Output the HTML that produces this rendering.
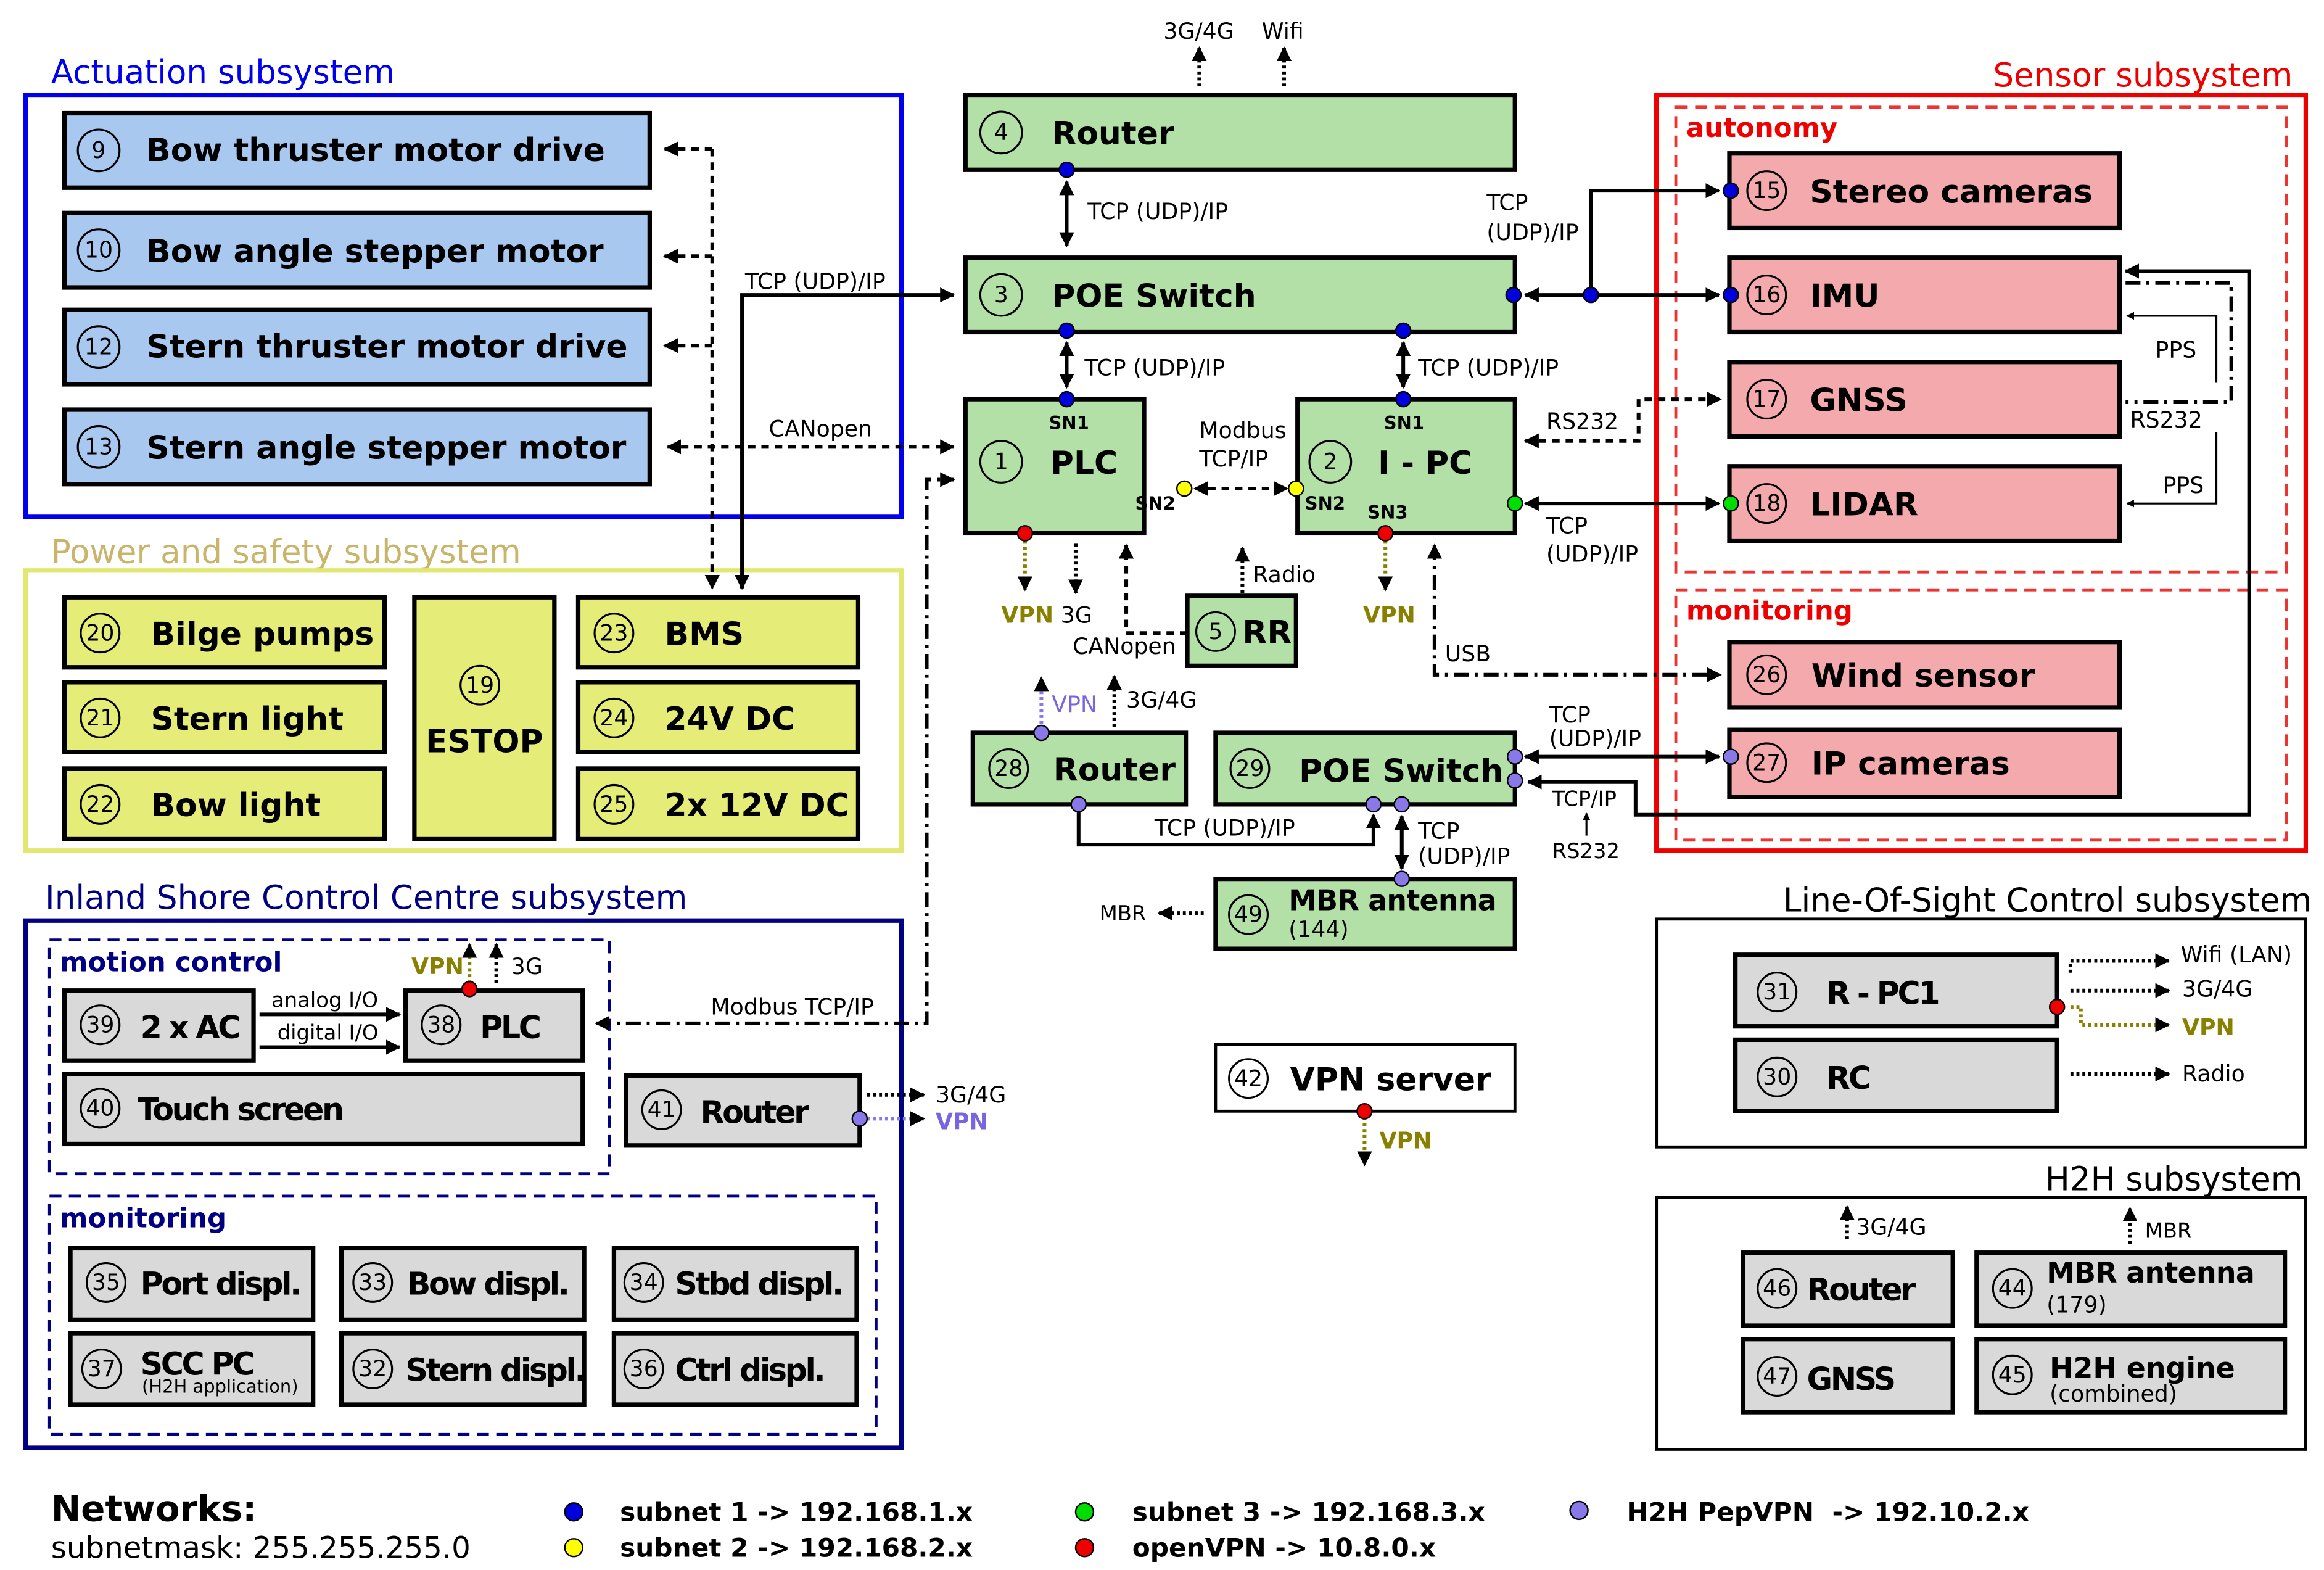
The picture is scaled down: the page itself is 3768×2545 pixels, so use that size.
<!DOCTYPE html>
<html><head><meta charset="utf-8"><style>
html,body{margin:0;padding:0;background:#fff}
svg{display:block}
text{font-family:"DejaVu Sans","Liberation Sans",sans-serif}
.b{font-weight:bold;font-size:21.5px}
.g{font-weight:bold;font-size:21px;letter-spacing:-1.4px}
.n{font-size:15px}
.s{font-size:15px}
.bl{fill:#a9c8f0;stroke:#000;stroke-width:3}
.gr{fill:#b3e0a6;stroke:#000;stroke-width:3}
.pk{fill:#f4a9ac;stroke:#000;stroke-width:3}
.ye{fill:#e6ec78;stroke:#000;stroke-width:3}
.gy{fill:#d9d9d9;stroke:#000;stroke-width:3}
.c{fill:none;stroke:#000;stroke-width:1.3}
.l{fill:none;stroke:#000;stroke-width:2.5}
.d{fill:none;stroke:#000;stroke-width:2.5;stroke-dasharray:5,4}
.dd{fill:none;stroke:#000;stroke-width:2.5;stroke-dasharray:10,4,2,4}
.o{fill:none;stroke:#000;stroke-width:2.5;stroke-dasharray:2,2}
.ov{fill:none;stroke:#8a8000;stroke-width:2.5;stroke-dasharray:2,2}
.pv{fill:none;stroke:#8878e8;stroke-width:2.5;stroke-dasharray:2,2}
</style></head><body>
<svg width="3768" height="2545" viewBox="0 0 1560 1054" xmlns="http://www.w3.org/2000/svg">
<defs>
<marker id="a" viewBox="0 0 10 10" refX="9" refY="5" markerWidth="4" markerHeight="4" orient="auto-start-reverse"><path d="M0,0L10,5L0,10z" fill="#000"/></marker>
</defs>
<rect width="1560" height="1054" fill="#fff"/>

<!-- Actuation -->
<text x="34" y="56" font-size="22" fill="#0000ee">Actuation subsystem</text>
<rect x="17" y="64" width="588" height="283" fill="none" stroke="#0000ee" stroke-width="3"/>
<g>
<rect class="bl" x="43" y="76" width="393" height="50"/><circle class="c" cx="66" cy="101" r="14"/><text class="n" x="66" y="106" text-anchor="middle">9</text><text class="b" x="98" y="108">Bow thruster motor drive</text>
<rect class="bl" x="43" y="143" width="393" height="50"/><circle class="c" cx="66" cy="168" r="14"/><text class="n" x="66" y="173" text-anchor="middle">10</text><text class="b" x="98" y="176">Bow angle stepper motor</text>
<rect class="bl" x="43" y="208" width="393" height="50"/><circle class="c" cx="66" cy="233" r="14"/><text class="n" x="66" y="238" text-anchor="middle">12</text><text class="b" x="98" y="240">Stern thruster motor drive</text>
<rect class="bl" x="43" y="275" width="393" height="50"/><circle class="c" cx="66" cy="300" r="14"/><text class="n" x="66" y="305" text-anchor="middle">13</text><text class="b" x="98" y="308">Stern angle stepper motor</text>
</g>

<!-- Power -->
<text x="34" y="378" font-size="22" fill="#c8b46a">Power and safety subsystem</text>
<rect x="17" y="383" width="588" height="188" fill="none" stroke="#e0e870" stroke-width="3"/>
<rect class="ye" x="43" y="401" width="215" height="47"/><circle class="c" cx="67" cy="425" r="13"/><text class="n" x="67" y="430" text-anchor="middle">20</text><text class="b" x="101" y="433">Bilge pumps</text>
<rect class="ye" x="43" y="458" width="215" height="47"/><circle class="c" cx="67" cy="482" r="13"/><text class="n" x="67" y="487" text-anchor="middle">21</text><text class="b" x="101" y="490">Stern light</text>
<rect class="ye" x="43" y="516" width="215" height="47"/><circle class="c" cx="67" cy="540" r="13"/><text class="n" x="67" y="545" text-anchor="middle">22</text><text class="b" x="101" y="548">Bow light</text>
<rect class="ye" x="278" y="401" width="94" height="162"/><circle class="c" cx="322" cy="460" r="13"/><text class="n" x="322" y="465" text-anchor="middle">19</text><text class="b" x="325" y="505" text-anchor="middle">ESTOP</text>
<rect class="ye" x="388" y="401" width="188" height="47"/><circle class="c" cx="412" cy="425" r="13"/><text class="n" x="412" y="430" text-anchor="middle">23</text><text class="b" x="446" y="433">BMS</text>
<rect class="ye" x="388" y="458" width="188" height="47"/><circle class="c" cx="412" cy="482" r="13"/><text class="n" x="412" y="487" text-anchor="middle">24</text><text class="b" x="446" y="490">24V DC</text>
<rect class="ye" x="388" y="516" width="188" height="47"/><circle class="c" cx="412" cy="540" r="13"/><text class="n" x="412" y="545" text-anchor="middle">25</text><text class="b" x="446" y="548">2x 12V DC</text>

<!-- Inland -->
<text x="30" y="610" font-size="22" fill="#000080">Inland Shore Control Centre subsystem</text>
<rect x="17" y="618" width="588" height="354" fill="none" stroke="#000080" stroke-width="3"/>
<rect x="33" y="631" width="376" height="157" fill="none" stroke="#000080" stroke-width="2" stroke-dasharray="8,5"/>
<text x="40" y="652" font-size="18" font-weight="bold" fill="#000080">motion control</text>
<rect x="33" y="803" width="555" height="160" fill="none" stroke="#000080" stroke-width="2" stroke-dasharray="8,5"/>
<text x="40" y="824" font-size="18" font-weight="bold" fill="#000080">monitoring</text>
<rect class="gy" x="43" y="665" width="127" height="47"/><circle class="c" cx="67" cy="688" r="13"/><text class="n" x="67" y="693" text-anchor="middle">39</text><text class="g" x="94" y="697">2 x AC</text>
<rect class="gy" x="272" y="665" width="119" height="47"/><circle class="c" cx="296" cy="688" r="13"/><text class="n" x="296" y="693" text-anchor="middle">38</text><text class="g" x="322" y="697">PLC</text>
<rect class="gy" x="43" y="721" width="348" height="47"/><circle class="c" cx="67" cy="744" r="13"/><text class="n" x="67" y="749" text-anchor="middle">40</text><text class="g" x="92" y="752">Touch screen</text>
<rect class="gy" x="420" y="722" width="157" height="47"/><circle class="c" cx="444" cy="745" r="13"/><text class="n" x="444" y="750" text-anchor="middle">41</text><text class="g" x="470" y="754">Router</text>
<g>
<rect class="gy" x="47" y="838" width="163" height="48"/><circle class="c" cx="71" cy="861" r="13"/><text class="n" x="71" y="866" text-anchor="middle">35</text><text class="g" x="94" y="869">Port displ.</text>
<rect class="gy" x="229" y="838" width="163" height="48"/><circle class="c" cx="250" cy="861" r="13"/><text class="n" x="250" y="866" text-anchor="middle">33</text><text class="g" x="273" y="869">Bow displ.</text>
<rect class="gy" x="412" y="838" width="163" height="48"/><circle class="c" cx="432" cy="861" r="13"/><text class="n" x="432" y="866" text-anchor="middle">34</text><text class="g" x="453" y="869">Stbd displ.</text>
<rect class="gy" x="47" y="895" width="163" height="48"/><circle class="c" cx="68" cy="919" r="13"/><text class="n" x="68" y="924" text-anchor="middle">37</text><text class="g" x="94" y="923">SCC PC</text><text x="95" y="935" font-size="12">(H2H application)</text>
<rect class="gy" x="229" y="895" width="163" height="48"/><circle class="c" cx="250" cy="919" r="13"/><text class="n" x="250" y="924" text-anchor="middle">32</text><text class="g" x="272" y="927">Stern displ.</text>
<rect class="gy" x="412" y="895" width="163" height="48"/><circle class="c" cx="432" cy="919" r="13"/><text class="n" x="432" y="924" text-anchor="middle">36</text><text class="g" x="453" y="927">Ctrl displ.</text>
</g>

<!-- Green -->
<rect class="gr" x="648" y="64" width="369" height="50"/><circle class="c" cx="672" cy="89" r="14"/><text class="n" x="672" y="94" text-anchor="middle">4</text><text class="b" x="706" y="97">Router</text>
<rect class="gr" x="648" y="173" width="369" height="50"/><circle class="c" cx="672" cy="198" r="14"/><text class="n" x="672" y="203" text-anchor="middle">3</text><text class="b" x="706" y="206">POE Switch</text>
<rect class="gr" x="648" y="268" width="120" height="90"/><circle class="c" cx="672" cy="310" r="14"/><text class="n" x="672" y="315" text-anchor="middle">1</text><text class="b" x="705" y="318">PLC</text>
<text x="704" y="288" font-size="12" font-weight="bold">SN1</text><text x="762" y="342" font-size="12" font-weight="bold">SN2</text>
<rect class="gr" x="871" y="268" width="146" height="90"/><circle class="c" cx="893" cy="310" r="14"/><text class="n" x="893" y="315" text-anchor="middle">2</text><text class="b" x="925" y="318">I - PC</text>
<text x="929" y="288" font-size="12" font-weight="bold">SN1</text><text x="876" y="342" font-size="12" font-weight="bold">SN2</text><text x="918" y="348" font-size="12" font-weight="bold">SN3</text>
<rect class="gr" x="797" y="400" width="73" height="47"/><circle class="c" cx="816" cy="424" r="13"/><text class="n" x="816" y="429" text-anchor="middle">5</text><text class="b" x="834" y="432">RR</text>
<rect class="gr" x="653" y="492" width="143" height="48"/><circle class="c" cx="677" cy="516" r="13"/><text class="n" x="677" y="521" text-anchor="middle">28</text><text class="b" x="707" y="524">Router</text>
<rect class="gr" x="816" y="492" width="201" height="48"/><circle class="c" cx="839" cy="516" r="13"/><text class="n" x="839" y="521" text-anchor="middle">29</text><text class="b" x="872" y="525">POE Switch</text>
<rect class="gr" x="816" y="590" width="201" height="47"/><circle class="c" cx="838" cy="614" r="13"/><text class="n" x="838" y="619" text-anchor="middle">49</text><text x="865" y="611" font-size="19" font-weight="bold" letter-spacing="-0.3">MBR antenna</text><text x="865" y="629" font-size="15">(144)</text>
<rect x="816" y="701" width="201" height="45" fill="#fff" stroke="#000" stroke-width="2"/><circle class="c" cx="838" cy="724" r="13"/><text class="n" x="838" y="729" text-anchor="middle">42</text><text class="b" x="866" y="732">VPN server</text>

<!-- Sensor -->
<text x="1338" y="58" font-size="22" fill="#ee0000">Sensor subsystem</text>
<rect x="1112" y="64" width="436" height="507" fill="none" stroke="#ee0000" stroke-width="3"/>
<rect x="1125" y="72" width="410" height="312" fill="none" stroke="#ee3333" stroke-width="2" stroke-dasharray="8,5"/>
<text x="1132" y="92" font-size="18" font-weight="bold" fill="#ee0000">autonomy</text>
<rect x="1125" y="396" width="410" height="168" fill="none" stroke="#ee3333" stroke-width="2" stroke-dasharray="8,5"/>
<text x="1132" y="416" font-size="18" font-weight="bold" fill="#ee0000">monitoring</text>
<rect class="pk" x="1161" y="103" width="262" height="50"/><circle class="c" cx="1186" cy="128" r="13"/><text class="n" x="1186" y="133" text-anchor="middle">15</text><text class="b" x="1215" y="136">Stereo cameras</text>
<rect class="pk" x="1161" y="173" width="262" height="50"/><circle class="c" cx="1186" cy="198" r="13"/><text class="n" x="1186" y="203" text-anchor="middle">16</text><text class="b" x="1215" y="206">IMU</text>
<rect class="pk" x="1161" y="243" width="262" height="50"/><circle class="c" cx="1186" cy="268" r="13"/><text class="n" x="1186" y="273" text-anchor="middle">17</text><text class="b" x="1215" y="276">GNSS</text>
<rect class="pk" x="1161" y="313" width="262" height="50"/><circle class="c" cx="1186" cy="338" r="13"/><text class="n" x="1186" y="343" text-anchor="middle">18</text><text class="b" x="1215" y="346">LIDAR</text>
<rect class="pk" x="1161" y="431" width="262" height="44"/><circle class="c" cx="1186" cy="453" r="13"/><text class="n" x="1186" y="458" text-anchor="middle">26</text><text class="b" x="1216" y="461">Wind sensor</text>
<rect class="pk" x="1161" y="490" width="262" height="45"/><circle class="c" cx="1186" cy="512" r="13"/><text class="n" x="1186" y="517" text-anchor="middle">27</text><text class="b" x="1216" y="520">IP cameras</text>

<!-- LOS -->
<text x="1197" y="612" font-size="22">Line-Of-Sight Control subsystem</text>
<rect x="1112" y="617" width="436" height="153" fill="none" stroke="#000" stroke-width="2"/>
<rect class="gy" x="1165" y="641" width="216" height="48" stroke-width="1.5"/><circle class="c" cx="1193" cy="666" r="13"/><text class="n" x="1193" y="671" text-anchor="middle">31</text><text class="g" x="1226" y="674">R - PC1</text>
<rect class="gy" x="1165" y="698" width="216" height="48" stroke-width="1.5"/><circle class="c" cx="1193" cy="723" r="13"/><text class="n" x="1193" y="728" text-anchor="middle">30</text><text class="g" x="1226" y="731">RC</text>

<!-- H2H -->
<text x="1373" y="799" font-size="22">H2H subsystem</text>
<rect x="1112" y="804" width="436" height="169" fill="none" stroke="#000" stroke-width="2"/>
<rect class="gy" x="1170" y="841" width="141" height="49"/><circle class="c" cx="1193" cy="865" r="13"/><text class="n" x="1193" y="870" text-anchor="middle">46</text><text class="g" x="1213" y="873">Router</text>
<rect class="gy" x="1170" y="899" width="141" height="49"/><circle class="c" cx="1193" cy="924" r="13"/><text class="n" x="1193" y="929" text-anchor="middle">47</text><text class="g" x="1213" y="933">GNSS</text>
<rect class="gy" x="1327" y="841" width="207" height="49"/><circle class="c" cx="1351" cy="865" r="13"/><text class="n" x="1351" y="870" text-anchor="middle">44</text><text x="1374" y="861" font-size="19" font-weight="bold" letter-spacing="-0.3">MBR antenna</text><text x="1374" y="881" font-size="15">(179)</text>
<rect class="gy" x="1327" y="899" width="207" height="49"/><circle class="c" cx="1351" cy="923" r="13"/><text class="n" x="1351" y="928" text-anchor="middle">45</text><text x="1376" y="925" font-size="19" font-weight="bold">H2H engine</text><text x="1376" y="941" font-size="15">(combined)</text>

<!-- connectors -->
<g class="s">
<path class="o" d="M805,58V32" marker-end="url(#a)"/><path class="o" d="M862,58V32" marker-end="url(#a)"/>
<text x="781" y="26">3G/4G</text><text x="847" y="26">Wifi</text>
<path class="l" d="M716,122V165" marker-start="url(#a)" marker-end="url(#a)"/><text x="730" y="147">TCP (UDP)/IP</text>
<path class="l" d="M716,230V260" marker-start="url(#a)" marker-end="url(#a)"/><text x="728" y="252">TCP (UDP)/IP</text>
<path class="l" d="M942,230V260" marker-start="url(#a)" marker-end="url(#a)"/><text x="952" y="252">TCP (UDP)/IP</text>
<path class="l" d="M1024,198H1154" marker-start="url(#a)" marker-end="url(#a)"/>
<path class="l" d="M1068,198V128H1154" marker-end="url(#a)"/>
<text x="998" y="141">TCP</text><text x="998" y="161">(UDP)/IP</text>
<path class="l" d="M498,395V198H640" marker-start="url(#a)" marker-end="url(#a)"/><text x="500" y="194">TCP (UDP)/IP</text>
<path class="d" d="M478,100V395" marker-end="url(#a)"/>
<path class="d" d="M478,100H446" marker-end="url(#a)"/><path class="d" d="M478,172H446" marker-end="url(#a)"/><path class="d" d="M478,232H446" marker-end="url(#a)"/>
<path class="d" d="M448,300H640" marker-start="url(#a)" marker-end="url(#a)"/><text x="516" y="293">CANopen</text>
<path class="d" d="M802,328H864" marker-start="url(#a)" marker-end="url(#a)"/><text x="805" y="294">Modbus</text><text x="805" y="313">TCP/IP</text>
<path class="ov" d="M688,363V396" marker-end="url(#a)"/><text x="672" y="418" font-weight="bold" fill="#8a8000">VPN</text>
<path class="o" d="M722,365V398" marker-end="url(#a)"/><text x="712" y="418">3G</text>
<path class="d" d="M797,425H756V366" marker-end="url(#a)"/><text x="720" y="439">CANopen</text>
<path class="o" d="M834,398V368" marker-end="url(#a)"/><text x="841" y="391">Radio</text>
<path class="ov" d="M930,363V396" marker-end="url(#a)"/><text x="915" y="418" font-weight="bold" fill="#8a8000">VPN</text>
<path class="dd" d="M963,366V453H1155" marker-start="url(#a)" marker-end="url(#a)"/><text x="970" y="444">USB</text>
<path class="d" d="M1024,296H1100V268H1155" marker-start="url(#a)" marker-end="url(#a)"/><text x="1038" y="288">RS232</text>
<path class="l" d="M1024,338H1154" marker-start="url(#a)" marker-end="url(#a)"/><text x="1038" y="358">TCP</text><text x="1038" y="377">(UDP)/IP</text>
<path class="l" d="M1427,182H1510V547H1098V525H1026" marker-start="url(#a)" marker-end="url(#a)"/>
<path class="dd" d="M1427,190H1498V270H1427"/>
<path fill="none" stroke="#000" stroke-width="1.3" d="M1488,257V212H1428" marker-end="url(#a)"/>
<text x="1447" y="240">PPS</text><text x="1430" y="287">RS232</text>
<path fill="none" stroke="#000" stroke-width="1.3" d="M1488,290V338H1428" marker-end="url(#a)"/><text x="1452" y="331">PPS</text>
<path class="l" d="M1024,508H1154" marker-start="url(#a)" marker-end="url(#a)"/><text x="1040" y="485">TCP</text><text x="1040" y="501">(UDP)/IP</text>
<text x="1042" y="541" font-size="14">TCP/IP</text><path fill="none" stroke="#000" stroke-width="1.3" d="M1065,561V546" marker-end="url(#a)"/><text x="1042" y="576" font-size="14">RS232</text>
<path class="l" d="M941,548V583" marker-start="url(#a)" marker-end="url(#a)"/><text x="952" y="563">TCP</text><text x="952" y="580">(UDP)/IP</text>
<path class="l" d="M724,540V567H922V547" marker-end="url(#a)"/><text x="775" y="561">TCP (UDP)/IP</text>
<path class="pv" d="M699,490V455" marker-end="url(#a)"/><text x="706" y="478" fill="#7766dd">VPN</text>
<path class="o" d="M748,488V454" marker-end="url(#a)"/><text x="756" y="475">3G/4G</text>
<path class="o" d="M808,613H778" marker-end="url(#a)"/><text x="738" y="618" font-size="14">MBR</text>
<path class="ov" d="M916,750V782" marker-end="url(#a)"/><text x="926" y="771" font-weight="bold" fill="#8a8000">VPN</text>
<path class="dd" d="M400,687H622V322H640" marker-start="url(#a)" marker-end="url(#a)"/><text x="477" y="681">Modbus TCP/IP</text>
<path class="ov" d="M315,660V634" marker-end="url(#a)"/><text x="276" y="654" font-weight="bold" fill="#8a8000">VPN</text>
<path class="o" d="M333,660V634" marker-end="url(#a)"/><text x="343" y="654">3G</text>
<path class="l" d="M174,681H268" marker-end="url(#a)"/><text x="182" y="676" font-size="14">analog I/O</text>
<path class="l" d="M174,703H268" marker-end="url(#a)"/><text x="186" y="698" font-size="14">digital I/O</text>
<path class="pv" d="M582,751H620" marker-end="url(#a)"/><text x="628" y="758" fill="#7766dd" font-weight="bold">VPN</text>
<path class="o" d="M582,735H620" marker-end="url(#a)"/><text x="628" y="740">3G/4G</text>
<path class="o" d="M1390,653V645H1456" marker-end="url(#a)"/><text x="1464" y="646">Wifi (LAN)</text>
<path class="o" d="M1390,665H1456" marker-end="url(#a)"/><text x="1465" y="669">3G/4G</text>
<path class="ov" d="M1390,676H1397V688H1456" marker-end="url(#a)"/><text x="1465" y="695" font-weight="bold" fill="#8a8000">VPN</text>
<path class="o" d="M1390,721H1456" marker-end="url(#a)"/><text x="1465" y="726">Radio</text>
<path class="o" d="M1240,832V810" marker-end="url(#a)"/><text x="1246" y="829">3G/4G</text>
<path class="o" d="M1430,835V811" marker-end="url(#a)"/><text x="1440" y="831" font-size="14">MBR</text>
</g>

<!-- dots -->
<g stroke="#000" stroke-width="1">
<g fill="#0000dd">
<circle cx="716" cy="114" r="5"/><circle cx="716" cy="222" r="5"/><circle cx="716" cy="268" r="5"/><circle cx="942" cy="222" r="5"/><circle cx="942" cy="268" r="5"/>
<circle cx="1016" cy="198" r="5"/><circle cx="1068" cy="198" r="5"/><circle cx="1162" cy="128" r="5"/><circle cx="1162" cy="198" r="5"/>
</g>
<g fill="#ffff00"><circle cx="795" cy="328" r="5"/><circle cx="870" cy="328" r="5"/></g>
<g fill="#ee0000"><circle cx="688" cy="358" r="5"/><circle cx="930" cy="358" r="5"/><circle cx="916" cy="746" r="5"/><circle cx="315" cy="664" r="5"/><circle cx="1381" cy="676" r="5"/></g>
<g fill="#00dd00"><circle cx="1017" cy="338" r="5"/><circle cx="1162" cy="338" r="5"/></g>
<g fill="#8878e8"><circle cx="1017" cy="508" r="5"/><circle cx="1017" cy="524" r="5"/><circle cx="1162" cy="508" r="5"/><circle cx="724" cy="540" r="5"/><circle cx="922" cy="540" r="5"/><circle cx="941" cy="540" r="5"/><circle cx="941" cy="590" r="5"/><circle cx="699" cy="492" r="5"/><circle cx="577" cy="751" r="5"/></g>
</g>

<!-- legend -->
<text x="34" y="1021" font-size="24" font-weight="bold">Networks:</text>
<text x="34" y="1046" font-size="20">subnetmask: 255.255.255.0</text>
<g stroke="#000" stroke-width="1">
<circle cx="385" cy="1015" r="6" fill="#0000dd"/><circle cx="385" cy="1039" r="6" fill="#ffff00"/>
<circle cx="728" cy="1015" r="6" fill="#00dd00"/><circle cx="728" cy="1039" r="6" fill="#ee0000"/>
<circle cx="1060" cy="1014" r="6" fill="#8878e8"/>
</g>
<g font-size="17.5" font-weight="bold">
<text x="416" y="1021">subnet 1 -&gt; 192.168.1.x</text>
<text x="416" y="1045">subnet 2 -&gt; 192.168.2.x</text>
<text x="760" y="1021">subnet 3 -&gt; 192.168.3.x</text>
<text x="760" y="1045">openVPN -&gt; 10.8.0.x</text>
<text x="1092" y="1021" xml:space="preserve">H2H PepVPN  -&gt; 192.10.2.x</text>
</g>
</svg>
</body></html>
